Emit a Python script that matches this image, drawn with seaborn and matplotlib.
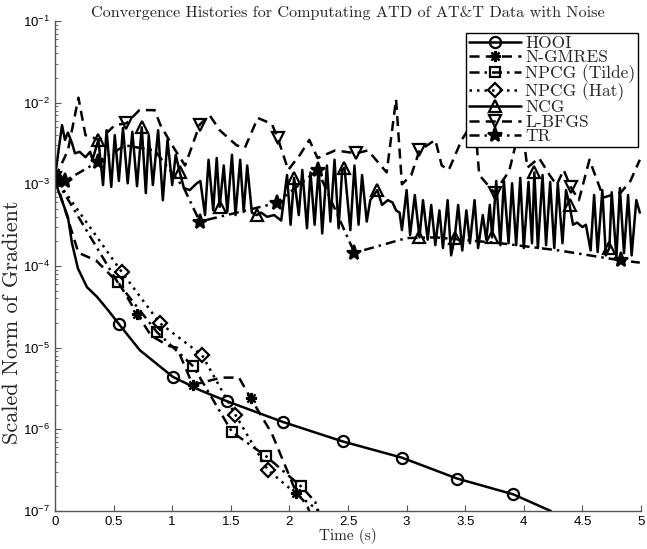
import numpy as np
import matplotlib
matplotlib.use("Agg")
import matplotlib.pyplot as plt
import seaborn as sns
from matplotlib.ticker import FixedLocator, FormatStrFormatter, LogLocator, LogFormatterSciNotation

# ---- data (time in s, scaled gradient norm) ----
hooi_t = [0, 0.026, 0.11, 0.145, 0.196, 0.273, 0.358, 0.451, 0.545, 0.724, 1.005,
          1.24, 1.47, 1.945, 2.456, 2.96, 3.43, 3.91, 4.23]
hooi_v = [1.2e-3, 8.5e-4, 4.0e-4, 1.9e-4, 9.3e-5, 5.5e-5, 4.2e-5, 2.9e-5, 1.95e-5, 9.3e-6,
          4.4e-6, 3.0e-6, 2.2e-6, 1.23e-6, 7.1e-7, 4.5e-7, 2.5e-7, 1.6e-7, 1.0e-7]
hooi_mark = [0, 0.545, 1.005, 1.47, 1.945, 2.456, 2.96, 3.43, 3.91]

ngm_t = [0, 0.2, 0.35, 0.55, 0.70, 0.82, 0.97, 1.04, 1.175, 1.42, 1.57, 1.67, 1.85,
         2.06, 2.15, 2.19]
ngm_v = [1.2e-3, 1.45e-4, 1.17e-4, 6.0e-5, 2.6e-5, 1.4e-5, 1.05e-5, 1.0e-5, 3.5e-6,
         4.3e-6, 4.3e-6, 2.4e-6, 8.9e-7, 1.66e-7, 1.2e-7, 8.0e-8]
ngm_mark = [0, 0.70, 1.175, 1.67, 2.06]

til_t = [0, 0.535, 0.87, 1.18, 1.51, 1.80, 2.10, 2.22, 2.26]
til_v = [1.2e-3, 6.3e-5, 1.55e-5, 5.9e-6, 9.3e-7, 4.7e-7, 2.0e-7, 1.3e-7, 8.0e-8]
til_mark = [0, 0.535, 0.87, 1.18, 1.51, 1.80, 2.10]

hat_t = [0, 0.568, 0.894, 1.255, 1.54, 1.815, 2.05, 2.30]
hat_v = [1.2e-3, 8.5e-5, 2.0e-5, 8.1e-6, 1.5e-6, 3.2e-7, 1.66e-7, 8.9e-8]
hat_mark = [0, 0.568, 0.894, 1.255, 1.54, 1.815]

ncg_t = [0, 0.03, 0.06, 0.085, 0.11, 0.145, 0.17, 0.21, 0.26, 0.30, 0.32, 0.37,
         0.41, 0.44, 0.48, 0.51, 0.545, 0.58, 0.62, 0.66, 0.70, 0.74, 0.775, 0.80,
         0.835, 0.88, 0.92, 0.96, 1.0, 1.03, 1.065, 1.10, 1.15, 1.21, 1.24, 1.28,
         1.31, 1.35, 1.38, 1.405, 1.44, 1.47, 1.51, 1.54, 1.58, 1.61, 1.64, 1.68,
         1.72, 1.76, 1.81, 1.87, 1.93, 1.98, 2.01, 2.04, 2.08, 2.11, 2.15, 2.18,
         2.215, 2.25, 2.28, 2.32, 2.35, 2.385, 2.42, 2.45, 2.47, 2.52, 2.555, 2.59,
         2.62, 2.66, 2.69, 2.75, 2.79, 2.84, 2.88, 2.91, 2.94, 2.96, 3.0, 3.03,
         3.07, 3.11, 3.14, 3.18, 3.21, 3.245, 3.28, 3.31, 3.35, 3.38, 3.41, 3.44,
         3.475, 3.51, 3.54, 3.58, 3.61, 3.65, 3.68, 3.71, 3.73, 3.765, 3.80, 3.83,
         3.87, 3.90, 3.935, 3.97, 4.0, 4.04, 4.07, 4.09, 4.12, 4.16, 4.19, 4.225,
         4.26, 4.29, 4.33, 4.36, 4.39, 4.42, 4.455, 4.50, 4.53, 4.57, 4.60, 4.63,
         4.67, 4.70, 4.73, 4.75, 4.79, 4.82, 4.855, 4.89, 4.92, 4.96, 4.99]
ncg_v = [1.2e-3, 2.6e-3, 5.3e-3, 3.5e-3, 4.3e-3, 3.2e-3, 2.4e-3, 2.5e-3, 2.15e-3, 2.5e-3,
         2.0e-3, 3.5e-3, 9.8e-4, 4.6e-3, 9.3e-4, 4.0e-3, 1.1e-3, 4.9e-3, 1.03e-3, 4.4e-3,
         9.5e-4, 5.0e-3, 7.8e-4, 4.0e-3, 9.8e-4, 4.6e-3, 6.4e-4, 3.5e-3, 9.8e-4, 2.3e-3,
         1.4e-3, 9.0e-4, 8.5e-4, 1.03e-3, 1.1e-3, 4.2e-4, 2.0e-3, 4.8e-4, 2.1e-3, 5.3e-4,
         1.7e-3, 4.6e-4, 2.3e-3, 4.2e-4, 2.0e-3, 4.6e-4, 1.7e-3, 4.5e-4, 4.2e-4, 4.5e-4,
         4.0e-4, 4.2e-4, 3.6e-4, 1.3e-3, 3.2e-4, 1.2e-3, 4.2e-4, 1.5e-3, 2.9e-4, 1.4e-3,
         3.2e-4, 1.6e-3, 2.5e-4, 1.7e-3, 3.5e-4, 2.0e-3, 2.9e-4, 1.5e-3, 1.6e-3, 2.75e-4,
         1.7e-3, 3.2e-4, 1.3e-3, 3.5e-4, 6.4e-4, 8.5e-4, 5.6e-4, 6.4e-4, 6.0e-4, 4.8e-4,
         4.5e-4, 2.75e-4, 8.5e-4, 2.4e-4, 7.4e-4, 2.24e-4, 6.4e-4, 2.1e-4, 5.6e-4, 1.8e-4,
         4.8e-4, 1.66e-4, 6.4e-4, 1.35e-4, 2.2e-4, 5.6e-4, 1.55e-4, 4.8e-4, 1.9e-4, 6.4e-4,
         1.66e-4, 4.2e-4, 2.1e-4, 5.6e-4, 2.24e-4, 1.1e-3, 1.8e-4, 1.1e-3, 1.9e-4, 1.03e-3,
         1.8e-4, 1.2e-3, 1.66e-4, 1.07e-3, 1.9e-4, 1.4e-3, 1.66e-4, 1.3e-3, 1.8e-4, 1.07e-3,
         1.66e-4, 1.03e-3, 1.9e-4, 8.5e-4, 5.6e-4, 3.2e-4, 3.4e-4, 3.0e-4, 3.2e-4, 1.55e-4,
         7.4e-4, 1.48e-4, 8.5e-4, 1.35e-4, 1.66e-4, 8.0e-4, 1.28e-4, 9.0e-4, 1.44e-4, 7.4e-4,
         1.35e-4, 6.4e-4, 4.5e-4]
ncg_mark = [0, 0.37, 0.74, 1.065, 1.405, 1.72, 2.04, 2.47, 2.75, 3.11, 3.41, 3.73,
            4.09, 4.39, 4.73]

lbfgs_t = [0, 0.11, 0.20, 0.26, 0.38, 0.51, 0.61, 0.72, 0.85, 0.90, 1.0, 1.11, 1.235,
           1.32, 1.405, 1.55, 1.62, 1.73, 1.85, 1.90, 1.99, 2.09, 2.17, 2.24, 2.39,
           2.57, 2.67, 2.83, 2.91, 2.96, 3.04, 3.11, 3.245, 3.30, 3.36, 3.47, 3.58,
           3.62, 3.75, 3.875, 3.98, 4.03, 4.13, 4.22, 4.28, 4.34, 4.40, 4.47, 4.56,
           4.64, 4.68, 4.83, 4.91, 4.99]
lbfgs_v = [1.2e-3, 2.6e-3, 1.15e-2, 4.0e-3, 3.5e-3, 5.3e-3, 5.6e-3, 8.1e-3, 8.1e-3,
           5.3e-3, 3.0e-3, 1.7e-3, 5.4e-3, 7.0e-3, 4.6e-3, 3.0e-3, 2.8e-3, 6.5e-3,
           5.5e-3, 3.7e-3, 1.5e-3, 2.3e-3, 3.5e-3, 2.1e-3, 2.6e-3, 2.4e-3, 2.6e-3,
           1.4e-3, 1.1e-2, 1.0e-3, 1.3e-3, 2.6e-3, 3.5e-3, 1.7e-3, 1.5e-3, 3.5e-3,
           6.2e-3, 1.3e-3, 7.9e-4, 1.45e-3, 6.0e-3, 1.6e-3, 2.1e-3, 1.3e-3, 9.8e-4,
           1.5e-3, 9.3e-4, 6.4e-4, 2.0e-3, 9.8e-4, 6.9e-4, 8.0e-4, 1.1e-3, 2.0e-3]
lbfgs_mark = [0, 0.61, 1.235, 1.90, 2.57, 3.11, 3.75, 4.40]

tr_t = [0, 0.085, 0.37, 0.6, 0.85, 1.1, 1.235, 1.55, 1.89, 2.24, 2.555, 3.0, 3.25,
        3.8, 4.3, 4.83, 4.99]
tr_v = [1.2e-3, 1.1e-3, 1.9e-3, 3.0e-3, 2.6e-3, 9.0e-4, 3.5e-4, 4.5e-4, 5.9e-4,
        1.5e-3, 1.45e-4, 2.2e-4, 2.24e-4, 1.9e-4, 1.55e-4, 1.17e-4, 1.1e-4]
tr_mark = [0, 0.085, 0.37, 1.235, 1.89, 2.24, 2.555, 4.83]

x_ticks = [0, 0.5, 1, 1.5, 2, 2.5, 3, 3.5, 4, 4.5, 5]

series = [
    ("HOOI", hooi_t, hooi_v, hooi_mark, "-", "o", "none", 8),
    ("N-GMRES", ngm_t, ngm_v, ngm_mark, (0, (4, 2.5)), (8, 2, 0), "k", 8),
    ("NPCG (Tilde)", til_t, til_v, til_mark, (0, (4, 2, 1, 2)), "s", "none", 7.5),
    ("NPCG (Hat)", hat_t, hat_v, hat_mark, (0, (1, 2)), "D", "none", 7),
    ("NCG", ncg_t, ncg_v, ncg_mark, "-", "^", "none", 8.5),
    ("L-BFGS", lbfgs_t, lbfgs_v, lbfgs_mark, (0, (4, 2.5)), "v", "none", 8.5),
    ("TR", tr_t, tr_v, tr_mark, (0, (4, 2, 1, 2)), "*", "k", 11),
]

sns.set_style("ticks")
plt.rcParams["font.family"] = ["Liberation Sans", "DejaVu Sans"]
plt.rcParams["mathtext.fontset"] = "custom"
plt.rcParams["mathtext.rm"] = "Liberation Sans"
plt.rcParams["mathtext.default"] = "regular"
serif = ["cmr10", "DejaVu Serif"]

fig = plt.figure(figsize=(6.47, 5.49), dpi=100)
ax = fig.add_axes([55 / 647, 38 / 549, 586 / 647, 490 / 549])

for name, t, v, marks, ls, mk, fc, ms in series:
    t = np.asarray(t)
    idx = [int(np.argmin(np.abs(t - m))) for m in marks]
    sns.lineplot(x=t, y=v, ax=ax, color="k", linestyle=ls, linewidth=1.8,
                 marker=mk, markevery=idx, markersize=ms, markerfacecolor=fc,
                 markeredgecolor="k", markeredgewidth=1.6, estimator=None,
                 sort=False, label=name)

ax.set_yscale("log")
ax.set_xlim(0, 5)
ax.set_ylim(1e-7, 1e-1)
ax.xaxis.set_major_locator(FixedLocator(x_ticks))
ax.xaxis.set_major_formatter(FormatStrFormatter("%g"))
ax.yaxis.set_major_locator(LogLocator(base=10, numticks=10))
ax.yaxis.set_minor_locator(LogLocator(base=10, subs=np.arange(2, 10), numticks=20))
ax.yaxis.set_major_formatter(LogFormatterSciNotation())

for side in ["top", "right"]:
    ax.spines[side].set_visible(False)
for side in ["left", "bottom"]:
    ax.spines[side].set_color("#555555")
    ax.spines[side].set_linewidth(1.0)
ax.tick_params(which="both", direction="in", colors="#555555", labelcolor="k",
               labelsize=9.5)
ax.tick_params(which="major", length=4)
ax.tick_params(which="minor", length=2)

ax.set_title("Convergence Histories for Computating ATD of AT&T Data with Noise",
             fontsize=11.7, family=serif, pad=3)
ax.set_xlabel("Time (s)", fontsize=11, family=serif, labelpad=0)
ax.set_ylabel("Scaled Norm of Gradient", fontsize=16, family=serif)
ax.yaxis.set_label_coords(-0.056, 0.385)

leg = ax.legend(loc="upper right", bbox_to_anchor=(0.995, 0.976), frameon=True,
                fancybox=False, framealpha=1, edgecolor="k", borderpad=0.15,
                labelspacing=-0.05, handlelength=3.0, handletextpad=0.25,
                borderaxespad=0, prop={"family": serif, "size": 12.5})
leg.get_frame().set_linewidth(1.0)

fig.savefig("out.png", dpi=100)
